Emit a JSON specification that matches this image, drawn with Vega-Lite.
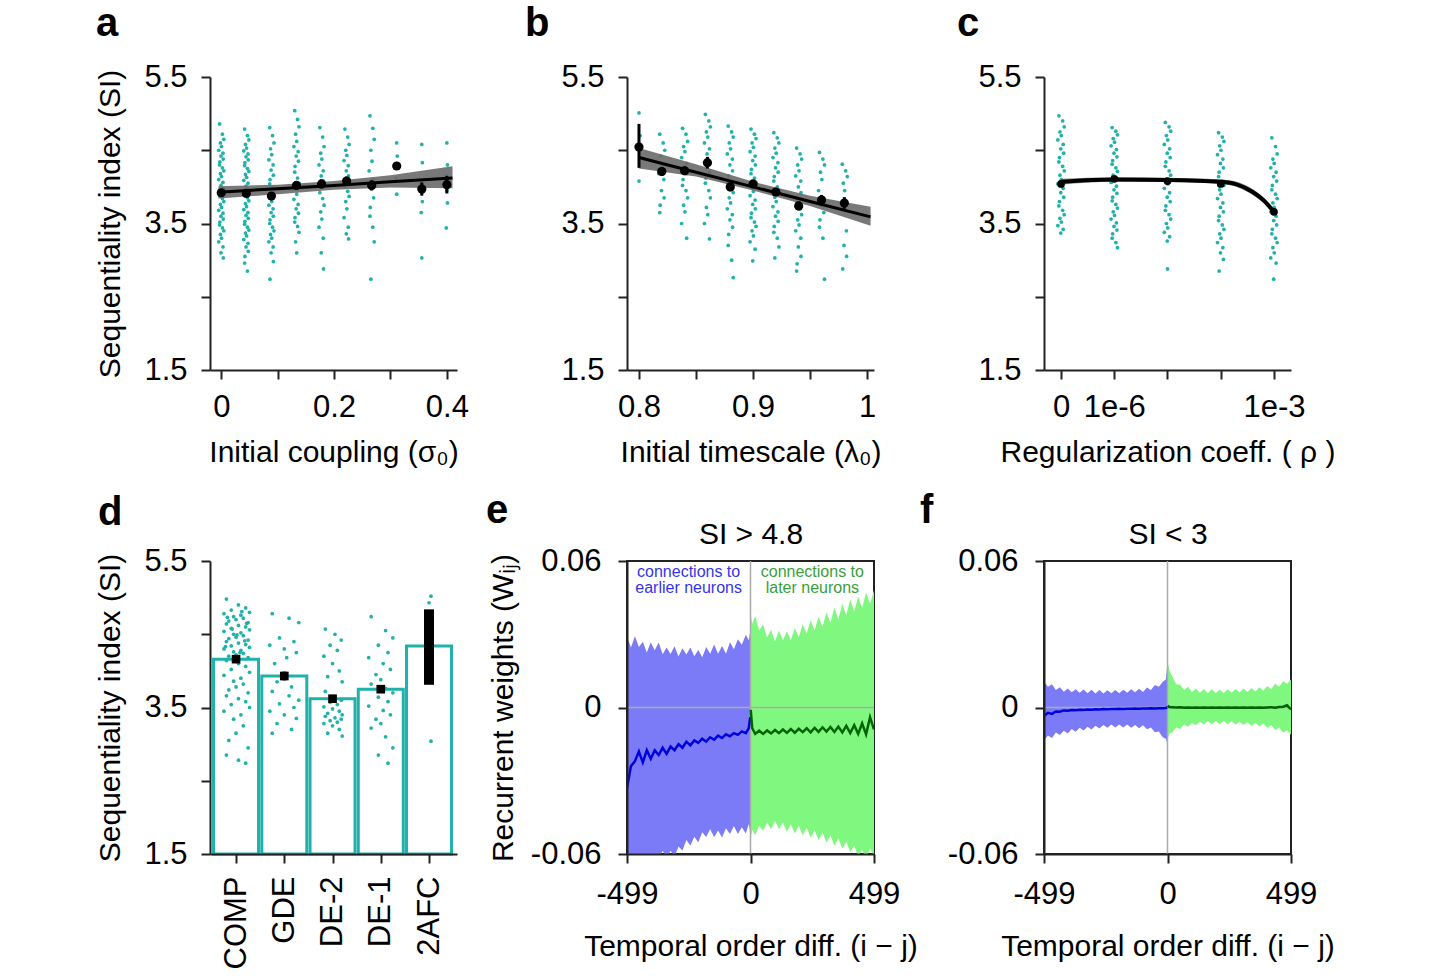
{
"$schema":"https://vega.github.io/schema/vega-lite/v6.json",
"background":"white",
"padding":{"left":95,"top":4,"right":5,"bottom":5},
"columns":3,
"bounds":"flush",
"align":"all",
"spacing":{"row":191,"column":170},
"config":{
 "font":"Liberation Sans",
 "view":{"stroke":null},
 "axis":{"labelFont":"Liberation Sans","titleFont":"Liberation Sans","labelFontSize":31,"titleFontSize":30,"titleFontWeight":"normal","labelColor":"#000","titleColor":"#000","domainColor":"#222","domainWidth":2,"tickColor":"#222","tickWidth":2,"tickSize":9,"grid":false,"labelFlush":false,"labelOverlap":false},
 "axisX":{"labelPadding":13,"titlePadding":15},
 "axisY":{"labelPadding":14,"titlePadding":18},
 "title":{"fontSize":40,"fontWeight":"bold","anchor":"start","frame":"group","color":"#000","offset":17,"font":"Liberation Sans"}
},
"datasets":{
"ptsA":[
{"x":-0.003,"y":4.86},{"x":0.002,"y":4.72},{"x":0.0045,"y":4.65},{"x":-0.0015,"y":4.6},{"x":0.0005,"y":4.55},{"x":-0.0045,"y":4.5},{"x":0.003,"y":4.46},{"x":-0.0005,"y":4.42},{"x":0.0035,"y":4.38},{"x":-0.0025,"y":4.34},
{"x":-0.003,"y":4.3},{"x":0.002,"y":4.26},{"x":0.0045,"y":4.22},{"x":-0.0015,"y":4.18},{"x":0.0005,"y":4.14},{"x":-0.0045,"y":4.1},{"x":0.003,"y":4.06},{"x":-0.0005,"y":4.02},{"x":0.0035,"y":3.98},{"x":-0.0025,"y":3.95},
{"x":-0.003,"y":3.88},{"x":0.002,"y":3.84},{"x":0.0045,"y":3.8},{"x":-0.0015,"y":3.76},{"x":0.0005,"y":3.72},{"x":-0.0045,"y":3.68},{"x":0.003,"y":3.64},{"x":-0.0005,"y":3.6},{"x":0.0035,"y":3.56},{"x":-0.0025,"y":3.52},
{"x":-0.003,"y":3.48},{"x":0.002,"y":3.44},{"x":0.0045,"y":3.4},{"x":-0.0015,"y":3.35},{"x":0.0005,"y":3.3},{"x":-0.0045,"y":3.25},{"x":0.003,"y":3.18},{"x":-0.0005,"y":3.1},{"x":0.0035,"y":3.03},
{"x":0.0414,"y":4.79},{"x":0.0464,"y":4.7},{"x":0.0489,"y":4.64},{"x":0.0429,"y":4.58},{"x":0.0449,"y":4.53},{"x":0.0399,"y":4.49},{"x":0.0474,"y":4.45},{"x":0.0439,"y":4.41},{"x":0.0479,"y":4.37},{"x":0.0419,"y":4.33},
{"x":0.0414,"y":4.29},{"x":0.0464,"y":4.25},{"x":0.0489,"y":4.21},{"x":0.0429,"y":4.17},{"x":0.0449,"y":4.13},{"x":0.0399,"y":4.09},{"x":0.0474,"y":4.05},{"x":0.0439,"y":4.01},{"x":0.0479,"y":3.97},{"x":0.0419,"y":3.93},
{"x":0.0414,"y":3.89},{"x":0.0464,"y":3.85},{"x":0.0489,"y":3.81},{"x":0.0429,"y":3.77},{"x":0.0449,"y":3.73},{"x":0.0399,"y":3.69},{"x":0.0474,"y":3.65},{"x":0.0439,"y":3.61},{"x":0.0479,"y":3.57},{"x":0.0419,"y":3.53},
{"x":0.0414,"y":3.49},{"x":0.0464,"y":3.45},{"x":0.0489,"y":3.41},{"x":0.0429,"y":3.37},{"x":0.0449,"y":3.33},{"x":0.0399,"y":3.28},{"x":0.0474,"y":3.23},{"x":0.0439,"y":3.18},{"x":0.0479,"y":3.12},{"x":0.0419,"y":3.05},
{"x":0.0414,"y":2.96},{"x":0.0464,"y":2.85},
{"x":0.0859,"y":4.81},{"x":0.0909,"y":4.7},{"x":0.0934,"y":4.6},{"x":0.0874,"y":4.52},{"x":0.0894,"y":4.44},{"x":0.0844,"y":4.37},{"x":0.0919,"y":4.3},{"x":0.0884,"y":4.23},{"x":0.0924,"y":4.16},{"x":0.0864,"y":4.1},
{"x":0.0859,"y":4.04},{"x":0.0909,"y":3.98},{"x":0.0934,"y":3.92},{"x":0.0874,"y":3.86},{"x":0.0894,"y":3.8},{"x":0.0844,"y":3.75},{"x":0.0919,"y":3.7},{"x":0.0884,"y":3.65},{"x":0.0924,"y":3.6},{"x":0.0864,"y":3.55},
{"x":0.0859,"y":3.5},{"x":0.0909,"y":3.45},{"x":0.0934,"y":3.4},{"x":0.0874,"y":3.35},{"x":0.0894,"y":3.3},{"x":0.0844,"y":3.25},{"x":0.0919,"y":3.18},{"x":0.0884,"y":3.1},{"x":0.0924,"y":2.98},{"x":0.0864,"y":2.74},
{"x":0.1303,"y":5.04},{"x":0.1353,"y":4.92},{"x":0.1378,"y":4.82},{"x":0.1318,"y":4.72},{"x":0.1338,"y":4.62},{"x":0.1288,"y":4.55},{"x":0.1363,"y":4.48},{"x":0.1328,"y":4.42},{"x":0.1368,"y":4.35},{"x":0.1308,"y":4.28},
{"x":0.1303,"y":4.2},{"x":0.1353,"y":4.12},{"x":0.1378,"y":4.05},{"x":0.1318,"y":3.98},{"x":0.1338,"y":3.9},{"x":0.1288,"y":3.83},{"x":0.1363,"y":3.76},{"x":0.1328,"y":3.7},{"x":0.1368,"y":3.64},{"x":0.1308,"y":3.58},
{"x":0.1303,"y":3.52},{"x":0.1353,"y":3.46},{"x":0.1378,"y":3.38},{"x":0.1318,"y":3.25},{"x":0.1338,"y":3.1},
{"x":0.1748,"y":4.81},{"x":0.1798,"y":4.68},{"x":0.1823,"y":4.55},{"x":0.1763,"y":4.46},{"x":0.1783,"y":4.38},{"x":0.1733,"y":4.3},{"x":0.1808,"y":4.22},{"x":0.1773,"y":4.15},{"x":0.1813,"y":4.08},{"x":0.1753,"y":4.0},
{"x":0.1748,"y":3.92},{"x":0.1798,"y":3.84},{"x":0.1823,"y":3.75},{"x":0.1763,"y":3.66},{"x":0.1783,"y":3.56},{"x":0.1733,"y":3.45},{"x":0.1808,"y":3.3},{"x":0.1773,"y":3.1},{"x":0.1813,"y":2.88},
{"x":0.2192,"y":4.79},{"x":0.2242,"y":4.68},{"x":0.2267,"y":4.58},{"x":0.2207,"y":4.5},{"x":0.2227,"y":4.43},{"x":0.2177,"y":4.36},{"x":0.2252,"y":4.29},{"x":0.2217,"y":4.22},{"x":0.2257,"y":4.15},{"x":0.2197,"y":4.08},
{"x":0.2192,"y":4.01},{"x":0.2242,"y":3.94},{"x":0.2267,"y":3.87},{"x":0.2207,"y":3.8},{"x":0.2227,"y":3.7},{"x":0.2177,"y":3.58},{"x":0.2252,"y":3.45},{"x":0.2217,"y":3.36},{"x":0.2257,"y":3.29},
{"x":0.2637,"y":4.97},{"x":0.2687,"y":4.8},{"x":0.2712,"y":4.65},{"x":0.2652,"y":4.5},{"x":0.2672,"y":4.35},{"x":0.2622,"y":4.22},{"x":0.2697,"y":4.1},{"x":0.2662,"y":3.98},{"x":0.2702,"y":3.85},{"x":0.2642,"y":3.72},
{"x":0.2637,"y":3.6},{"x":0.2687,"y":3.45},{"x":0.2712,"y":3.25},{"x":0.2652,"y":2.74},
{"x":0.3111,"y":4.6},{"x":0.3121,"y":4.42},{"x":0.3101,"y":4.12},{"x":0.3111,"y":3.9},
{"x":0.3556,"y":4.58},{"x":0.3566,"y":4.33},{"x":0.3546,"y":4.05},{"x":0.3556,"y":3.92},{"x":0.3566,"y":3.8},{"x":0.3546,"y":3.65},{"x":0.3556,"y":3.03},
{"x":0.4,"y":4.6},{"x":0.401,"y":4.3},{"x":0.399,"y":4.15},{"x":0.4,"y":3.95},{"x":0.401,"y":3.78},{"x":0.399,"y":3.44}
],
"meanA":[
{"x":0,"m":3.92,"lo":3.87,"hi":3.97},{"x":0.0444,"m":3.91,"lo":3.87,"hi":3.95},{"x":0.0889,"m":3.875,"lo":3.825,"hi":3.925},{"x":0.1333,"m":4.02,"lo":3.97,"hi":4.07},{"x":0.1778,"m":4.04,"lo":3.98,"hi":4.1},{"x":0.2222,"m":4.08,"lo":4.02,"hi":4.14},{"x":0.2667,"m":4.02,"lo":3.95,"hi":4.09},{"x":0.3111,"m":4.285,"lo":4.235,"hi":4.335},{"x":0.3556,"m":3.97,"lo":3.88,"hi":4.06},{"x":0.4,"m":4.03,"lo":3.91,"hi":4.15}
],
"fitA":[
{"x":-0.005,"lo":3.84,"hi":4.01,"f":3.928},{"x":0.1,"lo":3.9,"hi":4.03,"f":3.975},{"x":0.2,"lo":3.96,"hi":4.08,"f":4.02},{"x":0.3,"lo":3.99,"hi":4.16,"f":4.07},{"x":0.41,"lo":3.98,"hi":4.28,"f":4.12}
],
"ptsB":[
{"x":0.8,"y":5.01},{"x":0.801,"y":4.7},{"x":0.799,"y":4.55},{"x":0.8,"y":4.08},
{"x":0.8182,"y":4.72},{"x":0.8212,"y":4.6},{"x":0.8226,"y":4.5},{"x":0.8191,"y":4.42},{"x":0.8203,"y":4.3},{"x":0.8174,"y":4.18},{"x":0.8218,"y":4.1},{"x":0.8197,"y":3.95},{"x":0.822,"y":3.85},{"x":0.8186,"y":3.75},{"x":0.8182,"y":3.65},
{"x":0.8382,"y":4.8},{"x":0.8412,"y":4.72},{"x":0.8426,"y":4.62},{"x":0.8391,"y":4.55},{"x":0.8403,"y":4.48},{"x":0.8374,"y":4.4},{"x":0.8418,"y":4.32},{"x":0.8397,"y":4.25},{"x":0.842,"y":4.18},{"x":0.8386,"y":4.1},{"x":0.8382,"y":4.02},{"x":0.8412,"y":3.95},{"x":0.8426,"y":3.85},{"x":0.8391,"y":3.75},{"x":0.8403,"y":3.66},{"x":0.8374,"y":3.5},{"x":0.8418,"y":3.3},
{"x":0.8582,"y":4.99},{"x":0.8612,"y":4.9},{"x":0.8626,"y":4.82},{"x":0.8591,"y":4.75},{"x":0.8603,"y":4.68},{"x":0.8574,"y":4.6},{"x":0.8618,"y":4.52},{"x":0.8597,"y":4.45},{"x":0.862,"y":4.2},{"x":0.8586,"y":4.12},{"x":0.8582,"y":4.05},{"x":0.8612,"y":3.95},{"x":0.8626,"y":3.85},{"x":0.8591,"y":3.72},{"x":0.8603,"y":3.62},{"x":0.8574,"y":3.5},{"x":0.8618,"y":3.29},
{"x":0.8782,"y":4.83},{"x":0.8812,"y":4.75},{"x":0.8826,"y":4.68},{"x":0.8791,"y":4.6},{"x":0.8803,"y":4.52},{"x":0.8774,"y":4.45},{"x":0.8818,"y":4.38},{"x":0.8797,"y":4.3},{"x":0.882,"y":4.22},{"x":0.8786,"y":4.15},{"x":0.8782,"y":4.08},{"x":0.8812,"y":4.0},{"x":0.8826,"y":3.92},{"x":0.8791,"y":3.85},{"x":0.8803,"y":3.78},{"x":0.8774,"y":3.7},{"x":0.8818,"y":3.62},{"x":0.8797,"y":3.55},{"x":0.882,"y":3.45},{"x":0.8786,"y":3.35},{"x":0.8782,"y":3.2},{"x":0.8812,"y":3.0},{"x":0.8826,"y":2.76},
{"x":0.8982,"y":4.79},{"x":0.9012,"y":4.72},{"x":0.9026,"y":4.66},{"x":0.8991,"y":4.6},{"x":0.9003,"y":4.54},{"x":0.8974,"y":4.48},{"x":0.9018,"y":4.42},{"x":0.8997,"y":4.36},{"x":0.902,"y":4.3},{"x":0.8986,"y":4.24},{"x":0.8982,"y":4.18},{"x":0.9012,"y":4.12},{"x":0.9026,"y":4.06},{"x":0.8991,"y":4.0},{"x":0.9003,"y":3.94},{"x":0.8974,"y":3.88},{"x":0.9018,"y":3.82},{"x":0.8997,"y":3.76},{"x":0.902,"y":3.7},{"x":0.8986,"y":3.64},{"x":0.8982,"y":3.58},{"x":0.9012,"y":3.52},{"x":0.9026,"y":3.46},{"x":0.8991,"y":3.4},{"x":0.9003,"y":3.33},{"x":0.8974,"y":3.25},{"x":0.9018,"y":3.15},{"x":0.8997,"y":2.99},
{"x":0.9182,"y":4.74},{"x":0.9212,"y":4.67},{"x":0.9226,"y":4.6},{"x":0.9191,"y":4.53},{"x":0.9203,"y":4.46},{"x":0.9174,"y":4.4},{"x":0.9218,"y":4.33},{"x":0.9197,"y":4.26},{"x":0.922,"y":4.2},{"x":0.9186,"y":4.14},{"x":0.9182,"y":4.08},{"x":0.9212,"y":4.0},{"x":0.9226,"y":3.93},{"x":0.9191,"y":3.86},{"x":0.9203,"y":3.8},{"x":0.9174,"y":3.73},{"x":0.9218,"y":3.66},{"x":0.9197,"y":3.6},{"x":0.922,"y":3.53},{"x":0.9186,"y":3.46},{"x":0.9182,"y":3.38},{"x":0.9212,"y":3.3},{"x":0.9226,"y":3.18},{"x":0.9191,"y":3.03},
{"x":0.9382,"y":4.53},{"x":0.9412,"y":4.45},{"x":0.9426,"y":4.38},{"x":0.9391,"y":4.3},{"x":0.9403,"y":4.22},{"x":0.9374,"y":4.15},{"x":0.9418,"y":4.08},{"x":0.9397,"y":4.0},{"x":0.942,"y":3.92},{"x":0.9386,"y":3.85},{"x":0.9382,"y":3.78},{"x":0.9412,"y":3.7},{"x":0.9426,"y":3.62},{"x":0.9391,"y":3.55},{"x":0.9403,"y":3.48},{"x":0.9374,"y":3.4},{"x":0.9418,"y":3.3},{"x":0.9397,"y":3.18},{"x":0.942,"y":3.05},{"x":0.9386,"y":2.95},{"x":0.9382,"y":2.85},
{"x":0.9582,"y":4.47},{"x":0.9612,"y":4.38},{"x":0.9626,"y":4.3},{"x":0.9591,"y":4.2},{"x":0.9603,"y":4.1},{"x":0.9574,"y":3.95},{"x":0.9618,"y":3.85},{"x":0.9597,"y":3.75},{"x":0.962,"y":3.65},{"x":0.9586,"y":3.55},{"x":0.9582,"y":3.45},{"x":0.9612,"y":3.3},{"x":0.9626,"y":2.74},
{"x":0.9782,"y":4.31},{"x":0.9812,"y":4.22},{"x":0.9826,"y":4.14},{"x":0.9791,"y":4.05},{"x":0.9803,"y":3.95},{"x":0.9774,"y":3.7},{"x":0.9818,"y":3.4},{"x":0.9797,"y":3.2},{"x":0.982,"y":3.05},{"x":0.9786,"y":2.88}
],
"meanB":[
{"x":0.8,"m":4.544,"lo":4.26,"hi":4.86},{"x":0.82,"m":4.21,"lo":4.15,"hi":4.27},{"x":0.84,"m":4.22,"lo":4.16,"hi":4.28},{"x":0.86,"m":4.33,"lo":4.25,"hi":4.41},{"x":0.88,"m":4.0,"lo":3.94,"hi":4.06},{"x":0.9,"m":4.04,"lo":3.99,"hi":4.09},{"x":0.92,"m":3.93,"lo":3.88,"hi":3.98},{"x":0.94,"m":3.74,"lo":3.68,"hi":3.8},{"x":0.96,"m":3.82,"lo":3.75,"hi":3.89},{"x":0.98,"m":3.78,"lo":3.7,"hi":3.86}
],
"fitB":[
{"x":0.8,"lo":4.25,"hi":4.53,"f":4.4},{"x":0.85,"lo":4.14,"hi":4.31,"f":4.2},{"x":0.9,"lo":3.95,"hi":4.07,"f":4.0},{"x":0.95,"lo":3.74,"hi":3.88,"f":3.8},{"x":1.003,"lo":3.47,"hi":3.73,"f":3.59}
],
"ptsC":[
{"x":-0.04,"y":4.97},{"x":0.03,"y":4.9},{"x":0.06,"y":4.82},{"x":-0.02,"y":4.75},{"x":0.005,"y":4.7},{"x":-0.06,"y":4.64},{"x":0.04,"y":4.58},{"x":-0.005,"y":4.52},{"x":0.05,"y":4.46},{"x":-0.03,"y":4.4},
{"x":-0.04,"y":4.34},{"x":0.03,"y":4.28},{"x":0.06,"y":4.22},{"x":-0.02,"y":4.16},{"x":0.005,"y":4.1},{"x":-0.06,"y":4.04},{"x":0.04,"y":3.98},{"x":-0.005,"y":3.92},{"x":0.05,"y":3.86},{"x":-0.03,"y":3.8},
{"x":-0.04,"y":3.74},{"x":0.03,"y":3.68},{"x":0.06,"y":3.62},{"x":-0.02,"y":3.57},{"x":0.005,"y":3.52},{"x":-0.06,"y":3.47},{"x":0.04,"y":3.42},{"x":-0.005,"y":3.37},
{"x":0.96,"y":4.81},{"x":1.03,"y":4.76},{"x":1.06,"y":4.71},{"x":0.98,"y":4.66},{"x":1.005,"y":4.61},{"x":0.94,"y":4.56},{"x":1.04,"y":4.51},{"x":0.995,"y":4.46},{"x":1.05,"y":4.41},{"x":0.97,"y":4.36},
{"x":0.96,"y":4.31},{"x":1.03,"y":4.26},{"x":1.06,"y":4.21},{"x":0.98,"y":4.16},{"x":1.005,"y":4.11},{"x":0.94,"y":4.06},{"x":1.04,"y":4.01},{"x":0.995,"y":3.96},{"x":1.05,"y":3.91},{"x":0.97,"y":3.86},
{"x":0.96,"y":3.81},{"x":1.03,"y":3.76},{"x":1.06,"y":3.71},{"x":0.98,"y":3.66},{"x":1.005,"y":3.61},{"x":0.94,"y":3.56},{"x":1.04,"y":3.51},{"x":0.995,"y":3.46},{"x":1.05,"y":3.41},{"x":0.97,"y":3.36},
{"x":0.96,"y":3.3},{"x":1.03,"y":3.24},{"x":1.06,"y":3.17},
{"x":1.96,"y":4.88},{"x":2.03,"y":4.82},{"x":2.06,"y":4.76},{"x":1.98,"y":4.7},{"x":2.005,"y":4.64},{"x":1.94,"y":4.58},{"x":2.04,"y":4.52},{"x":1.995,"y":4.46},{"x":2.05,"y":4.4},{"x":1.97,"y":4.34},
{"x":1.96,"y":4.28},{"x":2.03,"y":4.22},{"x":2.06,"y":4.16},{"x":1.98,"y":4.1},{"x":2.005,"y":4.04},{"x":1.94,"y":3.98},{"x":2.04,"y":3.92},{"x":1.995,"y":3.86},{"x":2.05,"y":3.8},{"x":1.97,"y":3.74},
{"x":1.96,"y":3.68},{"x":2.03,"y":3.62},{"x":2.06,"y":3.56},{"x":1.98,"y":3.5},{"x":2.005,"y":3.44},{"x":1.94,"y":3.38},{"x":2.04,"y":3.32},{"x":1.995,"y":3.26},{"x":2.0,"y":2.88},
{"x":2.96,"y":4.74},{"x":3.03,"y":4.68},{"x":3.06,"y":4.62},{"x":2.98,"y":4.56},{"x":3.005,"y":4.5},{"x":2.94,"y":4.44},{"x":3.04,"y":4.38},{"x":2.995,"y":4.32},{"x":3.05,"y":4.26},{"x":2.97,"y":4.2},
{"x":2.96,"y":4.14},{"x":3.03,"y":4.08},{"x":3.06,"y":4.02},{"x":2.98,"y":3.96},{"x":3.005,"y":3.9},{"x":2.94,"y":3.84},{"x":3.04,"y":3.78},{"x":2.995,"y":3.72},{"x":3.05,"y":3.66},{"x":2.97,"y":3.6},
{"x":2.96,"y":3.54},{"x":3.03,"y":3.48},{"x":3.06,"y":3.42},{"x":2.98,"y":3.36},{"x":3.005,"y":3.3},{"x":2.94,"y":3.24},{"x":3.04,"y":3.17},{"x":2.995,"y":3.1},{"x":3.05,"y":3.01},{"x":2.97,"y":2.85},
{"x":3.96,"y":4.67},{"x":4.03,"y":4.55},{"x":4.06,"y":4.45},{"x":3.98,"y":4.38},{"x":4.005,"y":4.32},{"x":3.94,"y":4.26},{"x":4.04,"y":4.2},{"x":3.995,"y":4.14},{"x":4.05,"y":4.08},{"x":3.97,"y":4.02},
{"x":3.96,"y":3.96},{"x":4.03,"y":3.9},{"x":4.06,"y":3.84},{"x":3.98,"y":3.78},{"x":4.005,"y":3.72},{"x":3.94,"y":3.66},{"x":4.04,"y":3.6},{"x":3.995,"y":3.54},{"x":4.05,"y":3.48},{"x":3.97,"y":3.42},
{"x":3.96,"y":3.36},{"x":4.03,"y":3.3},{"x":4.06,"y":3.24},{"x":3.98,"y":3.17},{"x":4.005,"y":3.1},{"x":3.94,"y":3.03},{"x":4.04,"y":2.96},{"x":3.995,"y":2.74}
],
"meanC":[{"x":0,"m":4.04},{"x":1,"m":4.11},{"x":2,"m":4.08},{"x":3,"m":4.04},{"x":4,"m":3.66}],
"fitC":[
{"x":0,"f":4.07,"lo":4.03,"hi":4.11},{"x":1,"f":4.1,"lo":4.07,"hi":4.13},{"x":2,"f":4.095,"lo":4.065,"hi":4.125},{"x":3,"f":4.07,"lo":4.04,"hi":4.1},{"x":3.3,"f":4.035,"lo":4.0,"hi":4.07},{"x":3.6,"f":3.93,"lo":3.89,"hi":3.97},{"x":3.8,"f":3.82,"lo":3.78,"hi":3.86},{"x":4,"f":3.66,"lo":3.62,"hi":3.7}
],
"ptsD":[
{"x":-0.2,"y":4.98},{"x":0.05,"y":4.9},{"x":0.2,"y":4.86},{"x":-0.1,"y":4.83},{"x":0.28,"y":4.8},{"x":-0.25,"y":4.78},{"x":0.1,"y":4.76},{"x":-0.05,"y":4.74},{"x":0.15,"y":4.72},{"x":0.0,"y":4.7},{"x":-0.15,"y":4.68},{"x":0.25,"y":4.66},
{"x":-0.2,"y":4.64},{"x":0.05,"y":4.62},{"x":0.2,"y":4.6},{"x":-0.1,"y":4.58},{"x":0.28,"y":4.56},{"x":-0.25,"y":4.54},{"x":0.1,"y":4.52},{"x":-0.05,"y":4.5},{"x":0.15,"y":4.48},{"x":0.0,"y":4.46},{"x":-0.15,"y":4.44},{"x":0.25,"y":4.42},
{"x":-0.2,"y":4.4},{"x":0.05,"y":4.38},{"x":0.2,"y":4.36},{"x":-0.1,"y":4.34},{"x":0.28,"y":4.32},{"x":-0.25,"y":4.3},{"x":0.1,"y":4.28},{"x":-0.05,"y":4.26},{"x":0.15,"y":4.24},{"x":0.0,"y":4.22},{"x":-0.15,"y":4.2},{"x":0.25,"y":4.18},
{"x":-0.2,"y":4.14},{"x":0.05,"y":4.1},{"x":0.2,"y":4.06},{"x":-0.1,"y":4.02},{"x":0.28,"y":3.98},{"x":-0.25,"y":3.94},{"x":0.1,"y":3.9},{"x":-0.05,"y":3.86},{"x":0.15,"y":3.82},{"x":0.0,"y":3.78},{"x":-0.15,"y":3.74},{"x":0.25,"y":3.7},
{"x":-0.2,"y":3.66},{"x":0.05,"y":3.62},{"x":0.2,"y":3.58},{"x":-0.1,"y":3.54},{"x":0.28,"y":3.5},{"x":-0.25,"y":3.45},{"x":0.1,"y":3.4},{"x":-0.05,"y":3.34},{"x":0.15,"y":3.25},{"x":0.0,"y":3.15},{"x":-0.15,"y":3.05},{"x":0.25,"y":2.95},
{"x":-0.2,"y":2.85},{"x":0.05,"y":2.78},{"x":0.2,"y":2.74},
{"x":0.12,"y":4.81},{"x":-0.18,"y":4.73},{"x":0.22,"y":4.65},{"x":-0.08,"y":4.57},{"x":0.02,"y":4.49},{"x":0.18,"y":4.41},{"x":-0.22,"y":4.33},{"x":0.08,"y":4.25},
{"x":0.75,"y":4.78},{"x":1.1,"y":4.72},{"x":1.3,"y":4.66},{"x":0.9,"y":4.45},{"x":1.2,"y":4.4},{"x":0.7,"y":4.35},{"x":1.0,"y":4.3},{"x":1.25,"y":4.25},{"x":0.85,"y":3.85},{"x":1.15,"y":3.78},
{"x":0.75,"y":3.72},{"x":1.1,"y":3.66},{"x":1.3,"y":3.6},{"x":0.9,"y":3.55},{"x":1.2,"y":3.5},{"x":0.7,"y":3.45},{"x":1.0,"y":3.4},{"x":1.25,"y":3.35},{"x":0.85,"y":3.28},{"x":1.15,"y":3.2},
{"x":0.75,"y":3.15},{"x":1.05,"y":4.18},{"x":0.8,"y":4.1},
{"x":1.85,"y":4.57},{"x":2.05,"y":4.5},{"x":2.18,"y":4.42},{"x":1.95,"y":4.35},{"x":2.1,"y":4.28},{"x":1.82,"y":4.2},{"x":2.0,"y":4.1},{"x":2.14,"y":4.0},{"x":1.9,"y":3.92},{"x":2.2,"y":3.85},
{"x":1.85,"y":3.72},{"x":2.05,"y":3.64},{"x":2.18,"y":3.6},{"x":1.95,"y":3.57},{"x":2.1,"y":3.54},{"x":1.82,"y":3.51},{"x":2.0,"y":3.48},{"x":2.14,"y":3.45},{"x":1.9,"y":3.42},{"x":2.2,"y":3.4},
{"x":1.85,"y":3.38},{"x":2.05,"y":3.36},{"x":2.18,"y":3.34},{"x":1.95,"y":3.32},{"x":2.1,"y":3.3},{"x":1.82,"y":3.28},{"x":2.0,"y":3.25},{"x":2.14,"y":3.2},{"x":1.9,"y":3.15},{"x":2.2,"y":3.11},
{"x":2.8,"y":4.74},{"x":3.1,"y":4.55},{"x":3.25,"y":4.45},{"x":2.95,"y":4.35},{"x":3.15,"y":4.25},{"x":2.75,"y":4.18},{"x":3.05,"y":4.1},{"x":3.2,"y":4.02},{"x":2.9,"y":3.95},{"x":3.0,"y":3.88},
{"x":2.8,"y":3.82},{"x":3.1,"y":3.76},{"x":3.25,"y":3.7},{"x":2.95,"y":3.64},{"x":3.15,"y":3.58},{"x":2.75,"y":3.52},{"x":3.05,"y":3.46},{"x":3.2,"y":3.4},{"x":2.9,"y":3.34},{"x":3.0,"y":3.28},
{"x":2.8,"y":3.22},{"x":3.1,"y":3.1},{"x":3.25,"y":2.95},{"x":2.95,"y":2.85},{"x":3.15,"y":2.74},
{"x":4.04,"y":5.02},{"x":4.0,"y":4.93},{"x":4.04,"y":3.04}
],
"sumD":[
{"x":0,"m":4.16,"lo":4.13,"hi":4.19},{"x":1,"m":3.93,"lo":3.87,"hi":3.99},{"x":2,"m":3.62,"lo":3.59,"hi":3.65},{"x":3,"m":3.75,"lo":3.7,"hi":3.8},{"x":4,"m":4.34,"lo":3.81,"hi":4.84}
],
"bandE":[
{"s":"L","x":-499,"lo":-0.068,"hi":0.029,"m":-0.033},{"s":"L","x":-483,"lo":-0.0639,"hi":0.0246,"m":-0.024},{"s":"L","x":-467,"lo":-0.0658,"hi":0.0292,"m":-0.022},{"s":"L","x":-451,"lo":-0.0622,"hi":0.0248,"m":-0.018},{"s":"L","x":-435,"lo":-0.0651,"hi":0.0269,"m":-0.0225},{"s":"L","x":-419,"lo":-0.062,"hi":0.0225,"m":-0.0175},{"s":"L","x":-403,"lo":-0.0644,"hi":0.0267,"m":-0.021},{"s":"L","x":-387,"lo":-0.0604,"hi":0.0234,"m":-0.0175},{"s":"L","x":-371,"lo":-0.0623,"hi":0.0266,"m":-0.0195},{"s":"L","x":-355,"lo":-0.0587,"hi":0.0218,"m":-0.0165},{"s":"L","x":-339,"lo":-0.0617,"hi":0.0246,"m":-0.019},
{"s":"L","x":-323,"lo":-0.0587,"hi":0.0219,"m":-0.016},{"s":"L","x":-307,"lo":-0.0611,"hi":0.0251,"m":-0.0175},{"s":"L","x":-291,"lo":-0.0569,"hi":0.0209,"m":-0.015},{"s":"L","x":-275,"lo":-0.0586,"hi":0.0243,"m":-0.0165},{"s":"L","x":-259,"lo":-0.0543,"hi":0.0217,"m":-0.014},{"s":"L","x":-243,"lo":-0.0565,"hi":0.0246,"m":-0.0155},{"s":"L","x":-227,"lo":-0.0529,"hi":0.021,"m":-0.0135},{"s":"L","x":-211,"lo":-0.0552,"hi":0.0235,"m":-0.0145},{"s":"L","x":-195,"lo":-0.0511,"hi":0.0206,"m":-0.0128},{"s":"L","x":-179,"lo":-0.053,"hi":0.0248,"m":-0.014},{"s":"L","x":-163,"lo":-0.0498,"hi":0.022,"m":-0.0122},
{"s":"L","x":-147,"lo":-0.0531,"hi":0.0258,"m":-0.0132},{"s":"L","x":-131,"lo":-0.0504,"hi":0.022,"m":-0.0115},{"s":"L","x":-115,"lo":-0.0532,"hi":0.0252,"m":-0.0125},{"s":"L","x":-99,"lo":-0.0495,"hi":0.022,"m":-0.011},{"s":"L","x":-83,"lo":-0.0518,"hi":0.0267,"m":-0.0118},{"s":"L","x":-67,"lo":-0.0485,"hi":0.0239,"m":-0.0105},{"s":"L","x":-51,"lo":-0.0518,"hi":0.028,"m":-0.0112},{"s":"L","x":-35,"lo":-0.049,"hi":0.0257,"m":-0.0098},{"s":"L","x":-19,"lo":-0.0516,"hi":0.0298,"m":-0.0105},{"s":"L","x":-7,"lo":-0.0477,"hi":0.0275,"m":-0.0085},{"s":"L","x":-1,"lo":-0.051,"hi":0.031,"m":-0.004},
{"s":"R","x":1,"lo":-0.0535,"hi":0.038,"m":-0.001},{"s":"R","x":7,"lo":-0.0501,"hi":0.0343,"m":-0.0085},{"s":"R","x":19,"lo":-0.0523,"hi":0.0375,"m":-0.0108},{"s":"R","x":35,"lo":-0.0485,"hi":0.0315,"m":-0.0095},{"s":"R","x":51,"lo":-0.0505,"hi":0.034,"m":-0.0108},{"s":"R","x":67,"lo":-0.0472,"hi":0.0287,"m":-0.0094},{"s":"R","x":83,"lo":-0.0498,"hi":0.0318,"m":-0.0106},{"s":"R","x":99,"lo":-0.0465,"hi":0.027,"m":-0.0092},{"s":"R","x":115,"lo":-0.0498,"hi":0.0315,"m":-0.0105},{"s":"R","x":131,"lo":-0.0471,"hi":0.0275,"m":-0.009},{"s":"R","x":147,"lo":-0.0509,"hi":0.0312,"m":-0.0104},
{"s":"R","x":163,"lo":-0.0478,"hi":0.0275,"m":-0.0088},{"s":"R","x":179,"lo":-0.0516,"hi":0.0327,"m":-0.0103},{"s":"R","x":195,"lo":-0.0484,"hi":0.0288,"m":-0.0087},{"s":"R","x":211,"lo":-0.0523,"hi":0.0341,"m":-0.0101},{"s":"R","x":227,"lo":-0.0493,"hi":0.0303,"m":-0.0085},{"s":"R","x":243,"lo":-0.0533,"hi":0.0357,"m":-0.0102},{"s":"R","x":259,"lo":-0.0503,"hi":0.0315,"m":-0.0083},{"s":"R","x":275,"lo":-0.0543,"hi":0.0373,"m":-0.01},{"s":"R","x":291,"lo":-0.0512,"hi":0.033,"m":-0.0081},{"s":"R","x":307,"lo":-0.0553,"hi":0.039,"m":-0.0099},{"s":"R","x":323,"lo":-0.0524,"hi":0.0347,"m":-0.008},
{"s":"R","x":339,"lo":-0.0566,"hi":0.041,"m":-0.01},{"s":"R","x":355,"lo":-0.0537,"hi":0.036,"m":-0.0078},{"s":"R","x":371,"lo":-0.0578,"hi":0.0425,"m":-0.0102},{"s":"R","x":387,"lo":-0.055,"hi":0.0378,"m":-0.0075},{"s":"R","x":403,"lo":-0.0592,"hi":0.0442,"m":-0.0105},{"s":"R","x":419,"lo":-0.0566,"hi":0.0393,"m":-0.0072},{"s":"R","x":435,"lo":-0.061,"hi":0.0455,"m":-0.0108},{"s":"R","x":451,"lo":-0.0585,"hi":0.0407,"m":-0.0065},{"s":"R","x":467,"lo":-0.0617,"hi":0.0471,"m":-0.011},{"s":"R","x":483,"lo":-0.0579,"hi":0.0425,"m":-0.004},{"s":"R","x":499,"lo":-0.061,"hi":0.048,"m":-0.009}
],
"bandF":[
{"s":"L","x":-499,"lo":-0.0135,"hi":0.0105,"m":-0.0035},{"s":"L","x":-483,"lo":-0.0115,"hi":0.0085,"m":-0.0022},{"s":"L","x":-467,"lo":-0.0125,"hi":0.0095,"m":-0.0026},{"s":"L","x":-451,"lo":-0.0102,"hi":0.0072,"m":-0.0016},{"s":"L","x":-435,"lo":-0.0113,"hi":0.0083,"m":-0.0017},{"s":"L","x":-419,"lo":-0.0095,"hi":0.0065,"m":-0.0012},{"s":"L","x":-403,"lo":-0.0106,"hi":0.0078,"m":-0.0013},{"s":"L","x":-387,"lo":-0.0088,"hi":0.0062,"m":-0.001},{"s":"L","x":-371,"lo":-0.0099,"hi":0.0075,"m":-0.0011},{"s":"L","x":-355,"lo":-0.0083,"hi":0.006,"m":-0.0009},{"s":"L","x":-339,"lo":-0.0094,"hi":0.0074,"m":-0.001},
{"s":"L","x":-323,"lo":-0.0079,"hi":0.0058,"m":-0.0008},{"s":"L","x":-307,"lo":-0.009,"hi":0.0073,"m":-0.0009},{"s":"L","x":-291,"lo":-0.0075,"hi":0.0057,"m":-0.0007},{"s":"L","x":-275,"lo":-0.0086,"hi":0.0072,"m":-0.0008},{"s":"L","x":-259,"lo":-0.0072,"hi":0.0057,"m":-0.0006},{"s":"L","x":-243,"lo":-0.0083,"hi":0.0071,"m":-0.0007},{"s":"L","x":-227,"lo":-0.007,"hi":0.0058,"m":-0.0006},{"s":"L","x":-211,"lo":-0.0082,"hi":0.0072,"m":-0.0006},{"s":"L","x":-195,"lo":-0.007,"hi":0.0058,"m":-0.0005},{"s":"L","x":-179,"lo":-0.0082,"hi":0.0073,"m":-0.0006},{"s":"L","x":-163,"lo":-0.007,"hi":0.006,"m":-0.0005},
{"s":"L","x":-147,"lo":-0.0083,"hi":0.0075,"m":-0.0005},{"s":"L","x":-131,"lo":-0.0072,"hi":0.0062,"m":-0.0004},{"s":"L","x":-115,"lo":-0.0085,"hi":0.0077,"m":-0.0005},{"s":"L","x":-99,"lo":-0.0073,"hi":0.0063,"m":-0.0004},{"s":"L","x":-83,"lo":-0.0089,"hi":0.0082,"m":-0.0004},{"s":"L","x":-67,"lo":-0.0082,"hi":0.0072,"m":-0.0003},{"s":"L","x":-51,"lo":-0.0101,"hi":0.0092,"m":-0.0004},{"s":"L","x":-35,"lo":-0.0098,"hi":0.0085,"m":-0.0003},{"s":"L","x":-19,"lo":-0.0122,"hi":0.0105,"m":-0.0003},{"s":"L","x":-7,"lo":-0.0128,"hi":0.0115,"m":-0.0002},{"s":"L","x":-1,"lo":-0.0145,"hi":0.017,"m":0.0},
{"s":"R","x":1,"lo":-0.0128,"hi":0.0185,"m":0.0008},{"s":"R","x":7,"lo":-0.0108,"hi":0.0155,"m":0.0002},{"s":"R","x":19,"lo":-0.0102,"hi":0.0128,"m":0.0001},{"s":"R","x":35,"lo":-0.0082,"hi":0.0095,"m":0.0},{"s":"R","x":51,"lo":-0.0088,"hi":0.0093,"m":0.0001},{"s":"R","x":67,"lo":-0.007,"hi":0.0072,"m":-0.0001},{"s":"R","x":83,"lo":-0.0079,"hi":0.0085,"m":0.0},{"s":"R","x":99,"lo":-0.0062,"hi":0.0063,"m":-0.0001},{"s":"R","x":115,"lo":-0.0073,"hi":0.0078,"m":0.0},{"s":"R","x":131,"lo":-0.0058,"hi":0.006,"m":-0.0001},{"s":"R","x":147,"lo":-0.007,"hi":0.0076,"m":0.0},
{"s":"R","x":163,"lo":-0.0056,"hi":0.0058,"m":-0.0001},{"s":"R","x":179,"lo":-0.0069,"hi":0.0075,"m":0.0},{"s":"R","x":195,"lo":-0.0055,"hi":0.0058,"m":-0.0001},{"s":"R","x":211,"lo":-0.0068,"hi":0.0074,"m":0.0},{"s":"R","x":227,"lo":-0.0055,"hi":0.0058,"m":-0.0001},{"s":"R","x":243,"lo":-0.0069,"hi":0.0075,"m":0.0},{"s":"R","x":259,"lo":-0.0056,"hi":0.006,"m":-0.0001},{"s":"R","x":275,"lo":-0.007,"hi":0.0076,"m":0.0},{"s":"R","x":291,"lo":-0.0058,"hi":0.0061,"m":-0.0001},{"s":"R","x":307,"lo":-0.0072,"hi":0.0078,"m":0.0},{"s":"R","x":323,"lo":-0.006,"hi":0.0063,"m":-0.0001},
{"s":"R","x":339,"lo":-0.0075,"hi":0.008,"m":0.0},{"s":"R","x":355,"lo":-0.0062,"hi":0.0066,"m":-0.0001},{"s":"R","x":371,"lo":-0.0078,"hi":0.0083,"m":0.0},{"s":"R","x":387,"lo":-0.0066,"hi":0.0069,"m":-0.0001},{"s":"R","x":403,"lo":-0.0083,"hi":0.0088,"m":0.0},{"s":"R","x":419,"lo":-0.0072,"hi":0.0075,"m":0.0001},{"s":"R","x":435,"lo":-0.0092,"hi":0.0098,"m":-0.0001},{"s":"R","x":451,"lo":-0.0082,"hi":0.0085,"m":0.0002},{"s":"R","x":467,"lo":-0.0103,"hi":0.0108,"m":0.0003},{"s":"R","x":483,"lo":-0.0093,"hi":0.0097,"m":0.0009},{"s":"R","x":499,"lo":-0.0112,"hi":0.0115,"m":-0.0008}
]
},
"concat":[
{
 "width":247,"height":293,
 "title":{"text":"a","dx":-114},
 "layer":[
  {"data":{"name":"ptsA"},"mark":{"type":"circle","size":14,"color":"#20b2aa","opacity":1},
   "encoding":{
    "x":{"field":"x","type":"quantitative","scale":{"domain":[-0.02,0.418],"nice":false,"zero":false},"axis":{"values":[0,0.1,0.2,0.3,0.4],"labelExpr":"datum.value == 0 ? '0' : datum.value == 0.2 ? '0.2' : datum.value == 0.4 ? '0.4' : ''","title":"Initial coupling (σ₀)"}},
    "y":{"field":"y","type":"quantitative","scale":{"domain":[1.5,5.5],"nice":false,"zero":false},"axis":{"values":[1.5,2.5,3.5,4.5,5.5],"labelExpr":"datum.value == 1.5 ? '1.5' : datum.value == 3.5 ? '3.5' : datum.value == 5.5 ? '5.5' : ''","title":"Sequentiality index (SI)"}}}},
  {"data":{"name":"fitA"},"mark":{"type":"area","color":"#6a6a6a","opacity":0.9},"encoding":{"x":{"field":"x","type":"quantitative"},"y":{"field":"lo","type":"quantitative"},"y2":{"field":"hi"}}},
  {"data":{"name":"fitA"},"mark":{"type":"line","color":"#000","strokeWidth":3},"encoding":{"x":{"field":"x","type":"quantitative"},"y":{"field":"f","type":"quantitative"}}},
  {"data":{"name":"meanA"},"mark":{"type":"rule","color":"#000","strokeWidth":3},"encoding":{"x":{"field":"x","type":"quantitative"},"y":{"field":"lo","type":"quantitative"},"y2":{"field":"hi"}}},
  {"data":{"name":"meanA"},"mark":{"type":"circle","size":85,"color":"#000","opacity":1},"encoding":{"x":{"field":"x","type":"quantitative"},"y":{"field":"m","type":"quantitative"}}}
 ]
},
{
 "width":247,"height":293,
 "title":{"text":"b","dx":-102},
 "layer":[
  {"data":{"name":"ptsB"},"mark":{"type":"circle","size":14,"color":"#20b2aa","opacity":1},
   "encoding":{
    "x":{"field":"x","type":"quantitative","scale":{"domain":[0.7895,1.006],"nice":false,"zero":false},"axis":{"values":[0.8,0.85,0.9,0.95,1],"labelExpr":"datum.value == 0.8 ? '0.8' : datum.value == 0.9 ? '0.9' : datum.value == 1 ? '1' : ''","title":"Initial timescale (λ₀)"}},
    "y":{"field":"y","type":"quantitative","scale":{"domain":[1.5,5.5],"nice":false,"zero":false},"axis":{"values":[1.5,2.5,3.5,4.5,5.5],"labelExpr":"datum.value == 1.5 ? '1.5' : datum.value == 3.5 ? '3.5' : datum.value == 5.5 ? '5.5' : ''","title":null}}}},
  {"data":{"name":"fitB"},"mark":{"type":"area","color":"#6a6a6a","opacity":0.9},"encoding":{"x":{"field":"x","type":"quantitative"},"y":{"field":"lo","type":"quantitative"},"y2":{"field":"hi"}}},
  {"data":{"name":"fitB"},"mark":{"type":"line","color":"#000","strokeWidth":3},"encoding":{"x":{"field":"x","type":"quantitative"},"y":{"field":"f","type":"quantitative"}}},
  {"data":{"name":"meanB"},"mark":{"type":"rule","color":"#000","strokeWidth":3},"encoding":{"x":{"field":"x","type":"quantitative"},"y":{"field":"lo","type":"quantitative"},"y2":{"field":"hi"}}},
  {"data":{"name":"meanB"},"mark":{"type":"circle","size":85,"color":"#000","opacity":1},"encoding":{"x":{"field":"x","type":"quantitative"},"y":{"field":"m","type":"quantitative"}}}
 ]
},
{
 "width":247,"height":293,
 "title":{"text":"c","dx":-87},
 "layer":[
  {"data":{"name":"ptsC"},"mark":{"type":"circle","size":14,"color":"#20b2aa","opacity":1},
   "encoding":{
    "x":{"field":"x","type":"quantitative","scale":{"domain":[-0.32,4.32],"nice":false,"zero":false},"axis":{"values":[0,1,2,3,4],"labelExpr":"datum.value == 0 ? '0' : datum.value == 1 ? '1e-6' : datum.value == 4 ? '1e-3' : ''","title":"Regularization coeff. ( ρ )"}},
    "y":{"field":"y","type":"quantitative","scale":{"domain":[1.5,5.5],"nice":false,"zero":false},"axis":{"values":[1.5,2.5,3.5,4.5,5.5],"labelExpr":"datum.value == 1.5 ? '1.5' : datum.value == 3.5 ? '3.5' : datum.value == 5.5 ? '5.5' : ''","title":null}}}},
  {"data":{"name":"fitC"},"mark":{"type":"area","color":"#777777","opacity":0.8,"interpolate":"monotone"},"encoding":{"x":{"field":"x","type":"quantitative"},"y":{"field":"lo","type":"quantitative"},"y2":{"field":"hi"}}},
  {"data":{"name":"fitC"},"mark":{"type":"line","color":"#000","strokeWidth":4,"interpolate":"monotone"},"encoding":{"x":{"field":"x","type":"quantitative"},"y":{"field":"f","type":"quantitative"}}},
  {"data":{"name":"meanC"},"mark":{"type":"circle","size":60,"color":"#000","opacity":1},"encoding":{"x":{"field":"x","type":"quantitative"},"y":{"field":"m","type":"quantitative"}}}
 ]
},
{
 "width":247,"height":293,
 "title":{"text":"d","dx":-112,"dy":5},
 "layer":[
  {"data":{"name":"sumD"},"mark":{"type":"bar","size":45,"fill":"white","stroke":"#20b2aa","strokeWidth":3},
   "encoding":{
    "x":{"field":"x","type":"quantitative","scale":{"domain":[-0.54,4.58],"nice":false,"zero":false,"padding":0},"axis":{"values":[0,1,2,3,4],"labelExpr":"['COMP','GDE','DE-2','DE-1','2AFC'][datum.value]","labelAngle":-90,"labelPadding":13,"title":null,"zindex":1}},
    "y":{"field":"m","type":"quantitative","scale":{"domain":[1.5,5.5],"nice":false,"zero":false},"axis":{"values":[1.5,2.5,3.5,4.5,5.5],"labelExpr":"datum.value == 1.5 ? '1.5' : datum.value == 3.5 ? '3.5' : datum.value == 5.5 ? '5.5' : ''","title":"Sequentiality index (SI)","zindex":1}},
    "y2":{"datum":1.5}}},
  {"data":{"name":"ptsD"},"mark":{"type":"circle","size":14,"color":"#20b2aa","opacity":1},
   "encoding":{"x":{"field":"x","type":"quantitative"},"y":{"field":"y","type":"quantitative"}}},
  {"data":{"name":"sumD"},"transform":[{"filter":"datum.x != 4"}],"mark":{"type":"rule","color":"#000","strokeWidth":4},"encoding":{"x":{"field":"x","type":"quantitative"},"y":{"field":"lo","type":"quantitative"},"y2":{"field":"hi"}}},
  {"data":{"name":"sumD"},"transform":[{"filter":"datum.x == 4"}],"mark":{"type":"rule","color":"#000","strokeWidth":10},"encoding":{"x":{"field":"x","type":"quantitative"},"y":{"field":"lo","type":"quantitative"},"y2":{"field":"hi"}}},
  {"data":{"name":"sumD"},"transform":[{"filter":"datum.x != 4"}],"mark":{"type":"square","size":75,"color":"#000","opacity":1},"encoding":{"x":{"field":"x","type":"quantitative"},"y":{"field":"m","type":"quantitative"}}}
 ]
},
{
 "width":247,"height":293,
 "title":{"text":"e","dx":-141,"dy":29},
 "view":{"stroke":"#222","strokeWidth":2},
 "resolve":{"axis":{"x":"independent"}},
 "layer":[
  {"data":{"name":"bandE"},"mark":{"type":"area","clip":true,"opacity":1},
   "encoding":{
    "x":{"field":"x","type":"quantitative","scale":{"domain":[-499,499],"nice":false,"zero":false},"axis":{"values":[-499,0,499],"labelExpr":"datum.value == 0 ? '0' : (datum.value > 0 ? '499' : '-499')","title":"Temporal order diff. (i − j)","labelPadding":16,"titlePadding":22,"zindex":1}},
    "y":{"field":"lo","type":"quantitative","scale":{"domain":[-0.06,0.06],"nice":false,"zero":false},"axis":{"values":[-0.06,0,0.06],"labelExpr":"datum.value == 0 ? '0' : (datum.value > 0 ? '0.06' : '-0.06')","title":"Recurrent weights (Wᵢⱼ)","labelPadding":17,"titlePadding":12,"zindex":1}},
    "y2":{"field":"hi"},
    "fill":{"field":"s","type":"nominal","scale":{"domain":["L","R"],"range":["#7b7bf7","#80f880"]},"legend":null}}},
  {"data":{"values":[{}]},"mark":{"type":"rule","color":"#aaaaaa","strokeWidth":1.5},"encoding":{"x":{"datum":0,"axis":{"orient":"top","title":"SI > 4.8","labels":false,"ticks":false,"domain":false,"titlePadding":12}}}},
  {"data":{"values":[{}]},"mark":{"type":"rule","color":"#aaaaaa","strokeWidth":1.5},"encoding":{"y":{"datum":0}}},
  {"data":{"name":"bandE"},"mark":{"type":"line","strokeWidth":2.5,"clip":true},"encoding":{"x":{"field":"x","type":"quantitative","axis":null},"y":{"field":"m","type":"quantitative"},"stroke":{"field":"s","type":"nominal","scale":{"domain":["L","R"],"range":["#0000dd","#006400"]},"legend":null}}},
  {"data":{"values":[{}]},"mark":{"type":"text","lineBreak":"\n","baseline":"top","align":"center","dy":3,"fontSize":16,"lineHeight":16,"color":"#3535e8"},"encoding":{"x":{"datum":-250,"axis":null},"y":{"datum":0.06},"text":{"value":"connections to\nearlier neurons"}}},
  {"data":{"values":[{}]},"mark":{"type":"text","lineBreak":"\n","baseline":"top","align":"center","dy":3,"fontSize":16,"lineHeight":16,"color":"#3a9f3a"},"encoding":{"x":{"datum":250,"axis":null},"y":{"datum":0.06},"text":{"value":"connections to\nlater neurons"}}}
 ]
},
{
 "width":247,"height":293,
 "title":{"text":"f","dx":-124,"dy":29},
 "view":{"stroke":"#222","strokeWidth":2},
 "resolve":{"axis":{"x":"independent"}},
 "layer":[
  {"data":{"name":"bandF"},"mark":{"type":"area","clip":true,"opacity":1},
   "encoding":{
    "x":{"field":"x","type":"quantitative","scale":{"domain":[-499,499],"nice":false,"zero":false},"axis":{"values":[-499,0,499],"labelExpr":"datum.value == 0 ? '0' : (datum.value > 0 ? '499' : '-499')","title":"Temporal order diff. (i − j)","labelPadding":16,"titlePadding":22,"zindex":1}},
    "y":{"field":"lo","type":"quantitative","scale":{"domain":[-0.06,0.06],"nice":false,"zero":false},"axis":{"values":[-0.06,0,0.06],"labelExpr":"datum.value == 0 ? '0' : (datum.value > 0 ? '0.06' : '-0.06')","title":null,"labelPadding":17,"zindex":1}},
    "y2":{"field":"hi"},
    "fill":{"field":"s","type":"nominal","scale":{"domain":["L","R"],"range":["#7b7bf7","#80f880"]},"legend":null}}},
  {"data":{"values":[{}]},"mark":{"type":"rule","color":"#aaaaaa","strokeWidth":1.5},"encoding":{"x":{"datum":0,"axis":{"orient":"top","title":"SI < 3","labels":false,"ticks":false,"domain":false,"titlePadding":12}}}},
  {"data":{"values":[{}]},"mark":{"type":"rule","color":"#aaaaaa","strokeWidth":1.5},"encoding":{"y":{"datum":0}}},
  {"data":{"name":"bandF"},"mark":{"type":"line","strokeWidth":2.5,"clip":true},"encoding":{"x":{"field":"x","type":"quantitative","axis":null},"y":{"field":"m","type":"quantitative"},"stroke":{"field":"s","type":"nominal","scale":{"domain":["L","R"],"range":["#0000dd","#006400"]},"legend":null}}}
 ]
}
]
}
